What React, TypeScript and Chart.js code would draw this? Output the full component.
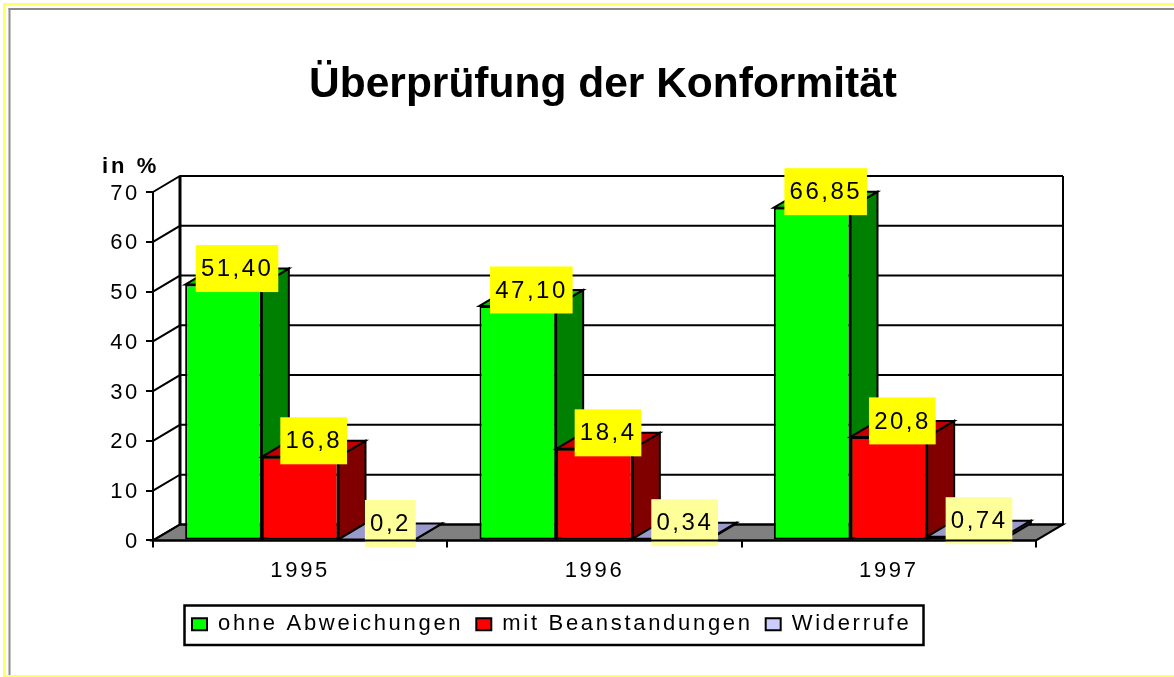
import React, { useEffect, useRef } from "react";
import { Chart, registerables } from "chart.js";

Chart.register(...registerables);

const titleText = "Überprüfung der Konformität";
const unitText = "in %";
const years = ["1995", "1996", "1997"];
const ohneAbweichungen = [51.4, 47.1, 66.85];
const mitBeanstandungen = [16.8, 18.4, 20.8];
const widerrufe = [0.2, 0.34, 0.74];
const ohneLabels = ["51,40", "47,10", "66,85"];
const mitLabels = ["16,8", "18,4", "20,8"];
const widerrufeLabels = ["0,2", "0,34", "0,74"];

const FONT = "'Liberation Sans', Arial, sans-serif";
const SPACING = "2.7px";
const DX = 27;
const DY = 16;

const faces = [
  { front: "#00FF00", top: "#00C000", side: "#008000", box: "#FFFF00" },
  { front: "#FF0000", top: "#C00000", side: "#800000", box: "#FFFF00" },
  { front: "#CCCCFF", top: "#9999CC", side: "#666699", box: "#FFFF99" },
];
const pointLabels = [ohneLabels, mitLabels, widerrufeLabels];

function poly(ctx: any, pts: number[][], fill?: string) {
  ctx.beginPath();
  pts.forEach((p, i) => (i ? ctx.lineTo(p[0], p[1]) : ctx.moveTo(p[0], p[1])));
  ctx.closePath();
  if (fill) {
    ctx.fillStyle = fill;
    ctx.fill();
  }
  ctx.stroke();
}

const chrome3d = {
  id: "chrome3d",
  beforeUpdate(chart: any) {
    chart.ctx.letterSpacing = SPACING;
  },
  afterLayout(chart: any) {
    const t = chart.titleBlock;
    t.left = 32;
    t.right = 1174;
    t.top = 59.5;
    t.bottom = t.top + t.height;
    const l = chart.legend;
    l.left = 192 - l.options.labels.padding;
    l.right = 1174;
    l.top = 626.5 - 13.2 - l.options.labels.padding;
    l.bottom = l.top + l.height;
    if (!t.__patched) {
      t.__patched = true;
      const draw = t.draw.bind(t);
      t.draw = (...a: any[]) => {
        chart.ctx.letterSpacing = "0px";
        draw(...a);
        chart.ctx.letterSpacing = SPACING;
      };
    }
  },
  beforeDraw(chart: any) {
    const ctx = chart.ctx;
    ctx.letterSpacing = SPACING;
    ctx.save();
    ctx.fillStyle = "#FFFFFF";
    ctx.fillRect(0, 0, chart.width, chart.height);
    ctx.fillStyle = "#FFFF66";
    ctx.fillRect(3, 3, chart.width - 3, 2.5);
    ctx.fillRect(3, 3, 3, chart.height - 3);
    ctx.fillRect(3, chart.height - 2, chart.width - 3, 2);
    ctx.fillStyle = "#8C8C8C";
    ctx.fillRect(8.5, 8, chart.width - 8.5, 2);
    ctx.fillRect(8.5, 8, 2, chart.height - 10);
    ctx.restore();
  },
  beforeDatasetsDraw(chart: any) {
    const ctx = chart.ctx;
    const { x, y } = chart.scales;
    const L = x.left;
    const R = x.right;
    const y0 = y.getPixelForValue(0);
    ctx.save();
    ctx.strokeStyle = "#000000";
    ctx.lineWidth = 2;
    // floor
    poly(ctx, [[L, y0], [L + DX, y0 - DY], [R + DX, y0 - DY], [R, y0]], "#808080");
    // walls and gridlines
    y.ticks.forEach((tick: any) => {
      const py = y.getPixelForValue(tick.value);
      ctx.beginPath();
      ctx.moveTo(L, py);
      ctx.lineTo(L + DX, py - DY);
      ctx.lineTo(R + DX, py - DY);
      ctx.stroke();
    });
    const yt = y.getPixelForValue(y.max);
    ctx.beginPath();
    ctx.moveTo(R + DX, yt - DY);
    ctx.lineTo(R + DX, y0 - DY);
    ctx.stroke();
    ctx.lineWidth = 3;
    ctx.beginPath();
    ctx.moveTo(L + DX, yt - DY);
    ctx.lineTo(L + DX, y0 - DY);
    ctx.stroke();
    ctx.lineWidth = 2;
    // bars, painted from left to right so that each one covers the previous side face
    const count = chart.data.labels.length;
    for (let c = 0; c < count; c++) {
      chart.data.datasets.forEach((_: any, d: number) => {
        const bar = chart.getDatasetMeta(d).data[c];
        const hw = bar.width / 2;
        const a = bar.x - hw;
        const b = bar.x + hw;
        poly(ctx, [[b, bar.y], [b + DX, bar.y - DY], [b + DX, bar.base - DY], [b, bar.base]], faces[d].side);
        poly(ctx, [[a, bar.y], [a + DX, bar.y - DY], [b + DX, bar.y - DY], [b, bar.y]], faces[d].top);
        bar.draw(ctx);
      });
    }
    ctx.restore();
    return false;
  },
  afterDraw(chart: any) {
    const ctx = chart.ctx;
    const { x, y } = chart.scales;
    const y0 = y.getPixelForValue(0);
    ctx.save();
    ctx.font = `24px ${FONT}`;
    ctx.letterSpacing = "2.5px";
    ctx.textBaseline = "middle";
    ctx.textAlign = "left";
    chart.data.datasets.forEach((_: any, d: number) => {
      chart.getDatasetMeta(d).data.forEach((bar: any, c: number) => {
        const text = pointLabels[d][c];
        const w = ctx.measureText(text).width;
        const cx = bar.x + DX / 2;
        const cy = bar.y - DY;
        ctx.fillStyle = faces[d].box;
        ctx.fillRect(cx - w / 2 - 5, cy - 23.5, w + 10, 47);
        ctx.fillStyle = "#000000";
        ctx.fillText(text, cx - w / 2 + 0.2, cy + 1);
      });
    });
    // front edge of the floor stays on top of the small label boxes
    ctx.strokeStyle = "#000000";
    ctx.lineWidth = 2;
    ctx.beginPath();
    ctx.moveTo(x.left, y0);
    ctx.lineTo(x.right, y0);
    ctx.stroke();
    // unit caption
    ctx.letterSpacing = "3px";
    ctx.font = `bold 22px ${FONT}`;
    ctx.textBaseline = "alphabetic";
    ctx.fillText(unitText, 102, 173);
    // legend frame
    ctx.lineWidth = 2.5;
    ctx.strokeRect(184.5, 605.5, 739, 39.5);
    ctx.restore();
  },
};

export default function App() {
  const ref = useRef<HTMLCanvasElement>(null);
  useEffect(() => {
    document.body.style.margin = "0";
    const tickFont = { family: FONT, size: 22 };
    const series = [ohneAbweichungen, mitBeanstandungen, widerrufe];
    const names = ["ohne Abweichungen", "mit Beanstandungen", "Widerrufe"];
    const chart = new Chart(ref.current as HTMLCanvasElement, {
      type: "bar",
      data: {
        labels: years,
        datasets: series.map((data, i) => ({
          label: names[i],
          data,
          backgroundColor: faces[i].front,
          borderColor: "#000000",
          borderWidth: 2,
          borderSkipped: false,
          barPercentage: 1,
          categoryPercentage: 0.7815,
        })),
      },
      options: {
        responsive: false,
        animation: false,
        layout: { padding: { top: 141, right: 138, bottom: 41.6, left: 0 } },
        plugins: {
          tooltip: { enabled: false },
          title: {
            display: true,
            text: titleText,
            color: "#000000",
            padding: 0,
            font: { family: FONT, size: 42.5, weight: "bold" },
          },
          legend: {
            position: "bottom",
            align: "start",
            labels: {
              color: "#000000",
              font: tickFont,
              boxWidth: 15,
              boxHeight: 12,
              padding: 13,
              generateLabels: (c: any) =>
                c.data.datasets.map((ds: any, i: number) => ({
                  text: ds.label,
                  fillStyle: faces[i].front,
                  strokeStyle: "#000000",
                  lineWidth: 2,
                  datasetIndex: i,
                })),
            },
          },
        },
        scales: {
          x: {
            afterFit: (s: any) => {
              s.height = 50;
            },
            border: { color: "#000000", width: 2 },
            grid: { offset: true, drawOnChartArea: false, color: "#000000", lineWidth: 2, tickLength: 7 },
            ticks: { color: "#000000", font: tickFont, padding: 10, maxRotation: 0 },
          },
          y: {
            min: 0,
            max: 70,
            afterFit: (s: any) => {
              s.width = 153;
            },
            border: { color: "#000000", width: 2 },
            grid: { drawOnChartArea: false, color: "#000000", lineWidth: 2, tickLength: 7 },
            ticks: { stepSize: 10, color: "#000000", font: tickFont, padding: 6, labelOffset: 1.5 },
          },
        },
      },
      plugins: [chrome3d],
    } as any);
    return () => chart.destroy();
  }, []);
  return <canvas ref={ref} width={1174} height={677} style={{ display: "block" }} />;
}
